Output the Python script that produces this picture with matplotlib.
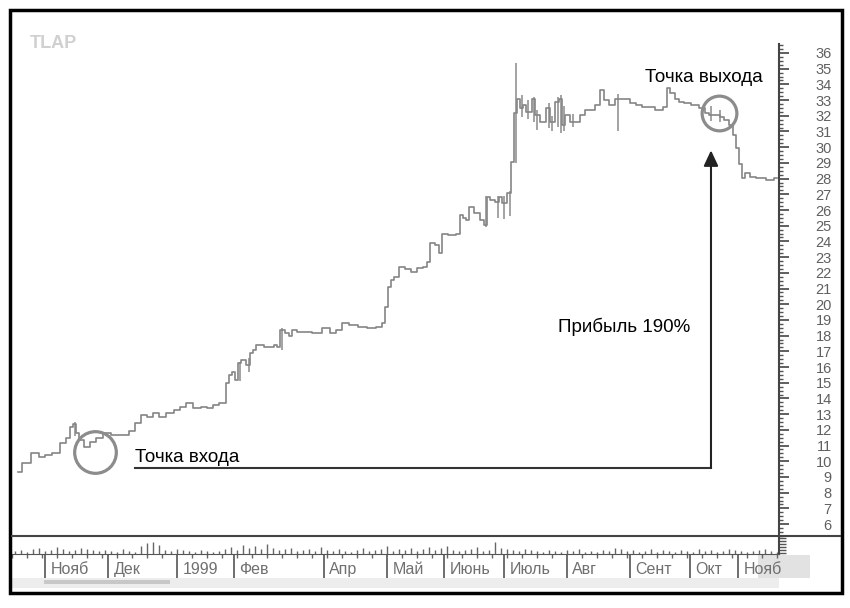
import numpy as np
import matplotlib.pyplot as plt
from matplotlib.patches import Rectangle
from matplotlib.lines import Line2D
from matplotlib.ticker import MultipleLocator, FixedLocator

plt.rcParams['font.family'] = ['Liberation Sans', 'DejaVu Sans']

# daily bar index (trading days since start) and closing price
days = [2, 5, 8, 10, 12, 15, 17, 19, 20, 21, 22, 23, 25, 27, 29, 32, 34, 36, 38, 40,
        42, 44, 46, 48, 50, 53, 55, 57, 59, 62, 64, 66, 68, 70, 71, 72, 73, 74, 75, 76,
        77, 79, 80, 81, 82, 83, 85, 87, 88, 89, 90, 92, 93, 94, 96, 98, 102, 105, 107, 109,
        111, 114, 117, 120, 123, 124, 125, 126, 127, 128, 130, 132, 134, 136, 138, 139, 140, 142, 143, 144,
        147, 149, 150, 151, 152, 153, 155, 157, 158, 159, 160, 162, 163, 164, 166, 167, 168, 169, 170, 171,
        172, 173, 174, 175, 177, 179, 180, 182, 183, 184, 185, 187, 189, 190, 192, 194, 195, 197, 198, 200,
        202, 203, 205, 207, 209, 211, 213, 216, 218, 219, 220, 222, 223, 225, 228, 230, 232, 233, 235, 237,
        238, 240, 241, 242, 243, 244, 245, 247, 249, 250, 253, 255]
close = [9.3, 9.9, 10.5, 10.25, 10.4, 10.5, 11.15, 11.5, 12.2, 12.4, 11.8, 11.35, 10.9, 11.2, 11.5, 11.8, 11.7, 11.7, 11.7, 11.9,
         12.45, 12.95, 12.8, 13.1, 12.8, 13.1, 13.25, 13.45, 13.7, 13.4, 13.45, 13.4, 13.6, 13.7, 13.7, 15.0, 15.5, 15.7, 15.2, 16.25,
         16.45, 16.1, 16.9, 17.1, 17.4, 17.4, 17.3, 17.3, 17.4, 17.3, 18.35, 18.15, 18.0, 18.35, 18.2, 18.2, 18.15, 18.5, 18.15, 18.35,
         18.8, 18.7, 18.55, 18.5, 18.55, 18.8, 19.8, 21.1, 21.55, 21.75, 22.4, 22.25, 22.05, 22.3, 22.4, 22.7, 23.9, 23.8, 23.25, 24.5,
         24.4, 24.5, 25.7, 25.5, 25.35, 26.2, 25.8, 25.35, 25.05, 26.85, 26.65, 26.5, 26.85, 26.45, 27.1, 29.05, 32.2, 33.1, 32.5, 32.7,
         32.25, 32.25, 33.1, 32.05, 31.6, 32.5, 31.6, 32.9, 33.1, 31.4, 32.05, 31.6, 31.6, 32.05, 32.4, 32.4, 32.7, 33.65, 33.0, 32.7,
         33.1, 33.1, 33.1, 32.8, 32.7, 32.55, 32.55, 32.4, 32.55, 33.75, 33.45, 33.1, 32.9, 32.8, 32.7, 32.5, 32.2, 32.05, 32.05, 31.9,
         31.75, 31.4, 30.8, 29.95, 28.9, 28.05, 28.35, 28.1, 28.05, 28.05, 27.9, 28.05]

# wide daily ranges (high-low bars) that stick out of the line
bar_days = [21, 76, 79, 90, 158, 162, 164, 166, 168, 170, 172, 174, 175, 179, 180, 182, 183, 184, 187, 202, 233, 236]
bar_low = [11.6, 15.1, 15.7, 17.1, 24.9, 25.5, 25.4, 25.6, 29.0, 31.9, 31.8, 31.6, 31.1, 31.2, 31.0, 31.3, 30.9, 31.0, 31.3, 31.0, 31.7, 31.6]
bar_high = [12.5, 16.3, 16.6, 18.5, 26.9, 26.9, 26.9, 27.2, 35.35, 33.3, 33.0, 33.2, 32.4, 32.8, 32.0, 33.2, 33.3, 32.6, 32.1, 33.4, 32.6, 32.4]

# volume, one value per two days
volume = [3, 4, 2, 5, 6, 3, 4, 7, 5, 3, 4, 6, 5, 4, 3,
          4, 3, 2, 5, 3, 2, 8, 11, 12, 9, 4, 3, 5, 4, 3,
          2, 4, 3, 2, 3, 5, 7, 4, 9, 6, 8, 5, 10, 6, 4,
          5, 6, 3, 4, 5, 3, 7, 4, 3, 5, 3, 2, 4, 6, 3,
          4, 5, 8, 3, 5, 4, 6, 3, 5, 7, 4, 6, 8, 4, 3,
          4, 5, 7, 3, 4, 12, 6, 5, 4, 3, 5, 4, 3, 2, 4,
          3, 2, 4, 3, 5, 2, 3, 2, 4, 3, 6, 5, 3, 4, 2,
          3, 5, 2, 4, 3, 2, 4, 3, 2, 5, 3, 4, 2, 3, 5,
          4, 3, 2, 3, 4, 5, 3, 2]

month_days = [11, 32, 55, 74, 104, 125, 144, 164, 185, 206, 226, 242]
month_labels = ['Нояб', 'Дек', '1999', 'Фев', 'Апр', 'Май', 'Июнь', 'Июль', 'Авг', 'Сент', 'Окт', 'Нояб']

entry = (27.7, 10.6)
exit_pt = (235.7, 32.2)
base_price = 9.57
arrow_top = 29.8

W, H = 850, 608
fig = plt.figure(figsize=(8.5, 6.08), dpi=100)

def fx(px):
    return px / W

def fy(py):
    return 1 - py / H

# price panel
ax = fig.add_axes([fx(12), fy(536), fx(779) - fx(12), fy(12) - fy(536)])
ax.set_xlim(0, 255.67)
ax.set_ylim(5.24, 38.61)
for s in ['top', 'left', 'bottom']:
    ax.spines[s].set_visible(False)
ax.spines['right'].set_color('#444444')
ax.spines['right'].set_linewidth(1.5)
ax.spines['right'].set_bounds(5.24, 36.6)
ax.set_xticks([])
ax.yaxis.tick_right()
ax.set_yticks(range(6, 37))
ax.yaxis.set_minor_locator(FixedLocator(np.arange(5.25, 36.6, 0.25)))
ax.tick_params(axis='y', which='major', length=7, width=1.2, color='#444444',
               labelsize=10.5, labelcolor='#606060', pad=31)
ax.tick_params(axis='y', which='minor', length=3, width=1, color='#555555')
for lbl in ax.get_yticklabels():
    lbl.set_ha('right')

ax.vlines(bar_days, bar_low, bar_high, color='#8a8a8a', lw=1.1)
ax.plot(days, close, color='#858585', lw=1.2, drawstyle='steps-mid')

# circles
ax.plot(*entry, 'o', ms=30, mfc='none', mec='#8c8c8c', mew=2.3)
ax.plot(*exit_pt, 'o', ms=25, mfc='none', mec='#8c8c8c', mew=2.3)

# profit arrow
ax.plot([41, 233], [base_price, base_price], color='#333333', lw=1.5)
ax.annotate('', xy=(233, arrow_top), xytext=(233, base_price),
            arrowprops=dict(arrowstyle='-|>,head_length=0.47,head_width=0.22',
                            mutation_scale=20, color='#222222', lw=1.5,
                            shrinkA=0, shrinkB=0))

ax.text(41, 9.97, 'Точка входа', fontsize=13.5, color='black', va='baseline')
ax.text(182, 18.23, 'Прибыль 190%', fontsize=13.5, color='black', va='baseline')
ax.text(211, 34.15, 'Точка выхода', fontsize=13.5, color='black', va='baseline')

# volume panel
axv = fig.add_axes([fx(12), fy(554), fx(779) - fx(12), fy(537) - fy(554)])
axv.set_xlim(0, 255.67)
axv.set_ylim(0, 17)
vol_days = np.arange(len(volume)) * 2 + 1
axv.vlines(vol_days, 0, volume, color='#666666', lw=1)
for s in ['top', 'left']:
    axv.spines[s].set_visible(False)
axv.spines['bottom'].set_color('#555555')
axv.spines['right'].set_color('#444444')
axv.spines['right'].set_linewidth(1.5)
axv.yaxis.tick_right()
axv.set_yticks(np.arange(1, 17, 3))
axv.set_yticklabels([])
axv.tick_params(axis='y', length=5, width=1, color='#555555')
axv.set_xticks(month_days)
axv.set_xticklabels([])
axv.xaxis.set_minor_locator(MultipleLocator(5))
axv.tick_params(axis='x', which='major', length=17, width=1.2, color='#555555')
axv.tick_params(axis='x', which='minor', length=3, width=1, color='#666666')
for d, lab in zip(month_days, month_labels):
    axv.text(d + 1.8, -0.94, lab, transform=axv.get_xaxis_transform(),
             fontsize=11.5, color='#707070', va='center', ha='left')

# separator, frame, scroll band
fig.add_artist(Line2D([fx(12), fx(840)], [fy(536), fy(536)], color='#444444', lw=1.5))
fig.add_artist(Rectangle((fx(12), fy(588)), fx(779) - fx(12), fy(578) - fy(588),
                         color='#ededed', lw=0, zorder=-1))
fig.add_artist(Rectangle((fx(44), fy(584)), fx(170) - fx(44), fy(580) - fy(584),
                         color='#c8c8c8', lw=0, zorder=-1))
fig.add_artist(Rectangle((fx(758), fy(578)), fx(810) - fx(758), fy(555) - fy(578),
                         color='#e2e2e2', lw=0, zorder=-1))
fig.add_artist(Rectangle((fx(10), fy(593)), fx(842) - fx(10), fy(10) - fy(593),
                         fill=False, ec='black', lw=2.5))

fig.text(fx(30), fy(48), 'TLAP', fontsize=13, fontweight='bold', color='#d0d0d0')

fig.savefig('out.png', dpi=100)
